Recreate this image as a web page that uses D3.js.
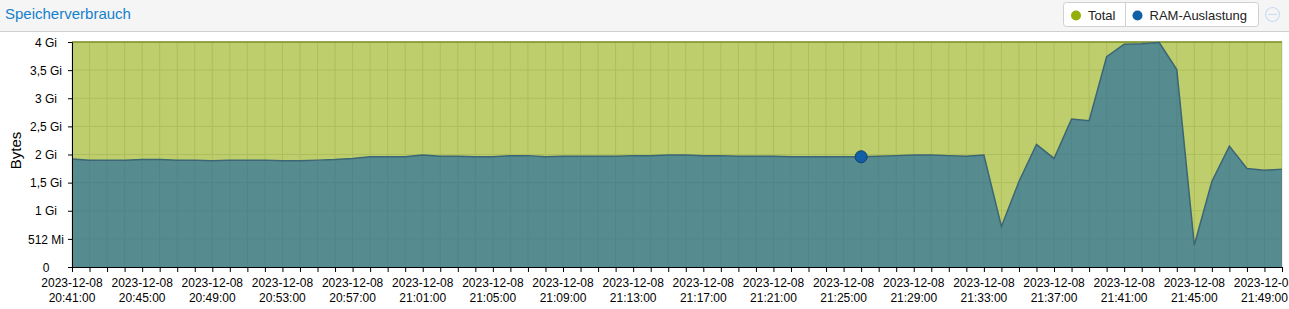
<!DOCTYPE html>
<html>
<head>
<meta charset="utf-8">
<script src="https://cdn.jsdelivr.net/npm/d3@7"></script>
<style>
  body { margin: 0; background: #fff; font-family: "Liberation Sans", Arial, sans-serif; }
  svg text { font-family: "Liberation Sans", Arial, sans-serif; }
</style>
</head>
<body>
<svg id="chart"></svg>
<script>
var svgWidth = 1289;
var svgHeight = 309;

var margin = { top: 42, right: 7, bottom: 42, left: 72 };
var width = 1282 - margin.left;
var height = 267 - margin.top;

var GI = 1024 * 1024 * 1024;

// one sample per minute, 20:41 .. 21:50
var startTime = new Date(2023, 11, 8, 20, 41);
var endTime = new Date(2023, 11, 8, 21, 50);
var times = d3.timeMinute.range(startTime, d3.timeMinute.offset(endTime, 1));

// RAM usage in Gi
var ramGi = [
  1.92, 1.90, 1.90, 1.90, 1.91, 1.91, 1.90, 1.90, 1.89, 1.90,
  1.90, 1.90, 1.89, 1.89, 1.90, 1.91, 1.93, 1.96, 1.96, 1.96,
  1.99, 1.97, 1.97, 1.96, 1.96, 1.98, 1.98, 1.96, 1.97, 1.97,
  1.97, 1.97, 1.98, 1.98, 1.99, 1.99, 1.98, 1.98, 1.97, 1.97,
  1.97, 1.96, 1.96, 1.96, 1.96, 1.96, 1.97, 1.98, 1.99, 1.99,
  1.98, 1.97, 1.99, 0.72, 1.52, 2.18, 1.93, 2.63, 2.60, 3.74,
  3.96, 3.97, 3.99, 3.51, 0.39, 1.52, 2.15, 1.75, 1.72, 1.74
];
// total memory in Gi
var totalGi = times.map(function() { return 4; });

var yTicksGi = [0, 0.5, 1, 1.5, 2, 2.5, 3, 3.5, 4];
var yTickLabels = ["0", "512 Mi", "1 Gi", "1,5 Gi", "2 Gi", "2,5 Gi", "3 Gi", "3,5 Gi", "4 Gi"];

var seriesNames = ["Total", "RAM-Auslastung"];
var seriesColors = ["#94ae0a", "#115fa6"];

var hoverIndex = 45;

var svg = d3.select("#chart")
  .attr("width", svgWidth)
  .attr("height", svgHeight);

// header bar
svg.append("rect")
  .attr("x", 0).attr("y", 0)
  .attr("width", svgWidth).attr("height", 31)
  .attr("fill", "#f5f5f5");
svg.append("line")
  .attr("x1", 0).attr("x2", svgWidth)
  .attr("y1", 31.5).attr("y2", 31.5)
  .attr("stroke", "#d0d0d0");
svg.append("text")
  .attr("x", 5).attr("y", 19)
  .attr("fill", "#157fcc")
  .style("font-size", "15px")
  .text("Speicherverbrauch");

// legend box
var legend = svg.append("g");
legend.append("rect")
  .attr("x", 1063.5).attr("y", 2.5)
  .attr("width", 195).attr("height", 24)
  .attr("rx", 3)
  .attr("fill", "#fff")
  .attr("stroke", "#d0d0d0");
legend.append("line")
  .attr("x1", 1125.5).attr("x2", 1125.5)
  .attr("y1", 3).attr("y2", 26)
  .attr("stroke", "#d0d0d0");
var legendX = [1076, 1137.5];
seriesNames.forEach(function(name, i) {
  legend.append("circle")
    .attr("cx", legendX[i]).attr("cy", 15.5)
    .attr("r", 5)
    .attr("fill", seriesColors[i]);
  legend.append("text")
    .attr("x", legendX[i] + 12).attr("y", 20)
    .attr("fill", "#222")
    .style("font-size", "13px")
    .text(name);
});
// collapse tool
svg.append("circle")
  .attr("cx", 1272.5).attr("cy", 14.5).attr("r", 7)
  .attr("fill", "none").attr("stroke", "#c9dcf1").attr("stroke-width", 1.2);
svg.append("line")
  .attr("x1", 1268).attr("x2", 1277)
  .attr("y1", 14.5).attr("y2", 14.5)
  .attr("stroke", "#c9dcf1").attr("stroke-width", 1.2);

var chartGroup = svg.append("g")
  .attr("transform", `translate(${margin.left}, ${margin.top})`);

var xScale = d3.scaleTime()
  .domain([startTime, endTime])
  .range([0, width]);

var yScale = d3.scaleLinear()
  .domain([0, 4 * GI])
  .range([height, 0]);

// grid
chartGroup.append("g")
  .selectAll("line.h")
  .data(yTicksGi)
  .enter()
  .append("line")
  .attr("x1", 0).attr("x2", width)
  .attr("y1", d => yScale(d * GI)).attr("y2", d => yScale(d * GI))
  .attr("stroke", "#d6d6d6");
chartGroup.append("g")
  .selectAll("line.v")
  .data(times)
  .enter()
  .append("line")
  .attr("x1", d => xScale(d)).attr("x2", d => xScale(d))
  .attr("y1", 0).attr("y2", height)
  .attr("stroke", "#d6d6d6");

var totalArea = d3.area()
  .x((d, i) => xScale(times[i]))
  .y0(height)
  .y1(d => yScale(d * GI));

var totalLine = d3.line()
  .x((d, i) => xScale(times[i]))
  .y(d => yScale(d * GI));

chartGroup.append("path")
  .datum(totalGi)
  .attr("d", totalArea)
  .attr("fill", seriesColors[0])
  .attr("fill-opacity", 0.6);

chartGroup.append("path")
  .datum(ramGi)
  .attr("d", totalArea)
  .attr("fill", seriesColors[1])
  .attr("fill-opacity", 0.6);

chartGroup.append("path")
  .datum(totalGi)
  .attr("d", totalLine)
  .attr("fill", "none")
  .attr("stroke", "#7e9224")
  .attr("stroke-width", 1.5);

chartGroup.append("path")
  .datum(ramGi)
  .attr("d", totalLine)
  .attr("fill", "none")
  .attr("stroke", "#3b6676")
  .attr("stroke-width", 1.5);

// hover marker
chartGroup.append("circle")
  .attr("cx", xScale(times[hoverIndex]))
  .attr("cy", yScale(ramGi[hoverIndex] * GI))
  .attr("r", 6)
  .attr("fill", seriesColors[1])
  .attr("stroke", "#0b4170")
  .attr("stroke-width", 1);

// y axis
var leftAxis = d3.axisLeft(yScale)
  .tickValues(yTicksGi.map(d => d * GI))
  .tickSize(4)
  .tickFormat("");
var yAxis = chartGroup.append("g").call(leftAxis);
yAxis.select(".domain").attr("stroke", "#000");
yAxis.selectAll(".tick line").attr("stroke", "#000");
yAxis.selectAll(".tick")
  .append("text")
  .attr("x", -26)
  .attr("dy", "0.35em")
  .attr("text-anchor", "middle")
  .attr("fill", "#000")
  .style("font-size", "12px")
  .text((d, i) => yTickLabels[i]);

chartGroup.append("text")
  .attr("transform", "rotate(-90)")
  .attr("x", -height / 2 + 4)
  .attr("y", -51)
  .attr("text-anchor", "middle")
  .attr("fill", "#000")
  .style("font-size", "15px")
  .text("Bytes");

// x axis
var bottomAxis = d3.axisBottom(xScale)
  .tickValues(times)
  .tickSize(5)
  .tickSizeOuter(0)
  .tickFormat("");
var xAxis = chartGroup.append("g")
  .attr("transform", `translate(0, ${height})`)
  .call(bottomAxis);
xAxis.select(".domain").attr("stroke", "#000");
xAxis.selectAll(".tick line").attr("stroke", "#000");

var fmtDate = d3.timeFormat("%Y-%m-%d");
var fmtTime = d3.timeFormat("%H:%M:%S");
var labelTimes = times.filter((d, i) => i % 4 === 0);
var xLabels = xAxis.append("g")
  .selectAll("text")
  .data(labelTimes)
  .enter()
  .append("text")
  .attr("transform", d => `translate(${xScale(d)}, 0)`)
  .attr("text-anchor", "middle")
  .attr("fill", "#000")
  .style("font-size", "12px");
xLabels.append("tspan").attr("x", 0).attr("y", 20).text(d => fmtDate(d));
xLabels.append("tspan").attr("x", 0).attr("y", 35).text(d => fmtTime(d));
</script>
</body>
</html>
